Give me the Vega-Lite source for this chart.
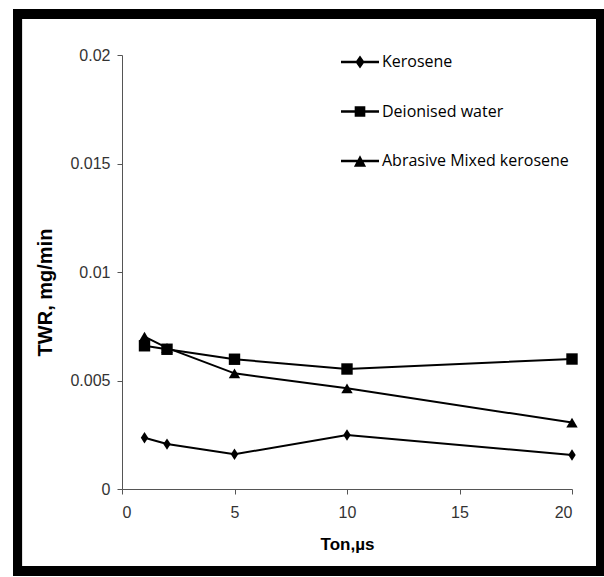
{
  "$schema": "https://vega.github.io/schema/vega-lite/v6.json",
  "width": 450,
  "height": 434,
  "autosize": {"type": "none"},
  "padding": {"left": 122, "top": 55, "right": 32, "bottom": 88},
  "background": "white",
  "config": {
    "view": {"stroke": null},
    "axis": {
      "grid": false,
      "domainColor": "#555",
      "tickColor": "#555",
      "domainWidth": 1,
      "tickWidth": 1,
      "tickSize": 5,
      "labelFont": "Liberation Sans",
      "labelFontSize": 16,
      "labelColor": "#333",
      "titleFont": "Liberation Sans",
      "titleFontWeight": "bold",
      "titleColor": "#000"
    }
  },
  "data": {
    "values": [
      {"ton": 1, "twr": 0.00236, "series": "Kerosene"},
      {"ton": 2, "twr": 0.00207, "series": "Kerosene"},
      {"ton": 5, "twr": 0.0016, "series": "Kerosene"},
      {"ton": 10, "twr": 0.00249, "series": "Kerosene"},
      {"ton": 20, "twr": 0.00157, "series": "Kerosene"},
      {"ton": 1, "twr": 0.0066, "series": "Deionised water"},
      {"ton": 2, "twr": 0.00644, "series": "Deionised water"},
      {"ton": 5, "twr": 0.00598, "series": "Deionised water"},
      {"ton": 10, "twr": 0.00553, "series": "Deionised water"},
      {"ton": 20, "twr": 0.00599, "series": "Deionised water"},
      {"ton": 1, "twr": 0.00702, "series": "Abrasive Mixed kerosene"},
      {"ton": 2, "twr": 0.0065, "series": "Abrasive Mixed kerosene"},
      {"ton": 5, "twr": 0.00533, "series": "Abrasive Mixed kerosene"},
      {"ton": 10, "twr": 0.00464, "series": "Abrasive Mixed kerosene"},
      {"ton": 20, "twr": 0.00306, "series": "Abrasive Mixed kerosene"}
    ]
  },
  "resolve": {"scale": {"shape": "independent"}, "legend": {"shape": "independent"}},
  "layer": [
    {
      "mark": {"type": "line", "color": "black", "strokeWidth": 2},
      "encoding": {
        "x": {
          "field": "ton", "type": "quantitative",
          "scale": {"domain": [0, 20], "nice": false, "zero": false},
          "axis": {"values": [0, 5, 10, 15, 20], "title": "Ton,µs", "titleFontSize": 17, "labelPadding": 10, "titlePadding": 16}
        },
        "y": {
          "field": "twr", "type": "quantitative",
          "scale": {"domain": [0, 0.02], "nice": false},
          "axis": {"values": [0, 0.005, 0.01, 0.015, 0.02], "format": "~g", "title": "TWR, mg/min", "titleFontSize": 20, "labelPadding": 7, "titlePadding": 14, "titleY": 237}
        },
        "detail": {"field": "series"}
      }
    },
    {
      "mark": {"type": "point", "filled": true, "color": "black", "opacity": 1, "size": 130, "strokeWidth": 0},
      "encoding": {
        "x": {"field": "ton", "type": "quantitative"},
        "y": {"field": "twr", "type": "quantitative"},
        "shape": {
          "field": "series", "type": "nominal",
          "scale": {
            "domain": ["Kerosene", "Deionised water", "Abrasive Mixed kerosene"],
            "range": ["M0,-1L0.65,0L0,1L-0.65,0Z", "square", "triangle-up"]
          },
          "legend": null
        }
      }
    },
    {
      "transform": [{"filter": "datum.ton < 0"}],
      "mark": {"type": "point", "filled": true, "color": "black", "opacity": 1, "strokeWidth": 0},
      "encoding": {
        "x": {"field": "ton", "type": "quantitative"},
        "y": {"field": "twr", "type": "quantitative"},
        "shape": {
          "field": "series", "type": "nominal",
          "scale": {
            "domain": ["Kerosene", "Deionised water", "Abrasive Mixed kerosene"],
            "range": [
              "M-1,-0.07L1,-0.07L1,0.07L-1,0.07Z M0,-0.34L0.24,0L0,0.34L-0.24,0Z",
              "M-1,-0.07L1,-0.07L1,0.07L-1,0.07Z M-0.28,-0.28L0.28,-0.28L0.28,0.28L-0.28,0.28Z",
              "M-1,-0.07L1,-0.07L1,0.07L-1,0.07Z M0,-0.3L0.32,0.3L-0.32,0.3Z"
            ]
          },
          "legend": {
            "title": null,
            "orient": "none",
            "legendX": 219,
            "legendY": -12,
            "padding": 0,
            "symbolSize": 1444,
            "symbolFillColor": "black",
            "symbolStrokeWidth": 0,
            "symbolOpacity": 1,
            "labelFont": "Open Sans",
            "labelFontSize": 16,
            "labelColor": "black",
            "labelOffset": 3,
            "rowPadding": 22.5,
            "labelLimit": 300
          }
        }
      }
    },
    {
      "mark": {"type": "rect", "fill": null, "fillOpacity": 0, "stroke": "black", "strokeWidth": 9, "clip": false},
      "encoding": {
        "x": {"datum": -4.644},
        "x2": {"datum": 21.289},
        "y": {"datum": 0.021889},
        "y2": {"datum": -0.003779}
      }
    }
  ]
}
